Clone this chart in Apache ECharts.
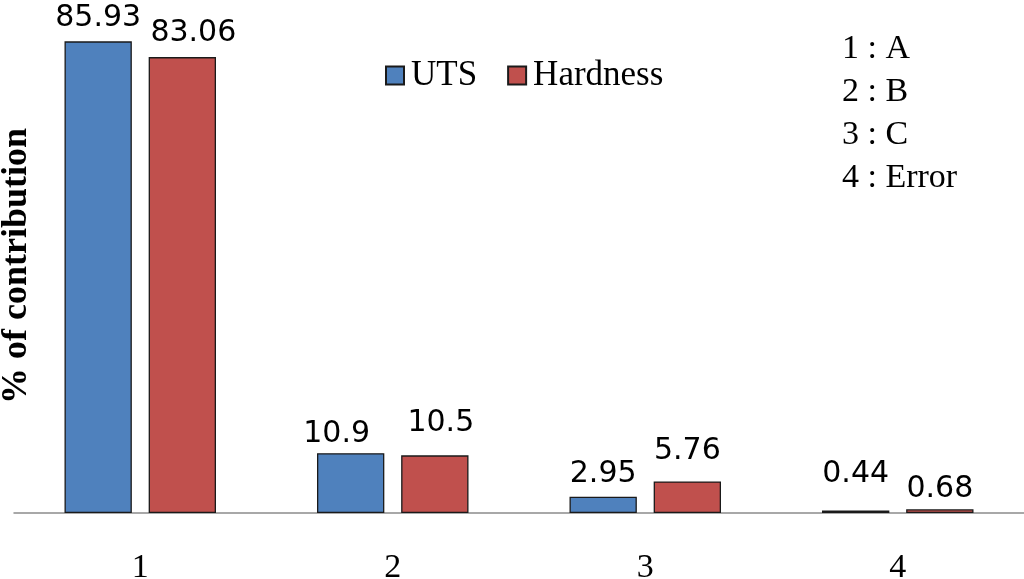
<!DOCTYPE html>
<html>
<head>
<meta charset="utf-8">
<script src="https://cdn.jsdelivr.net/npm/echarts@6/dist/echarts.min.js"></script>
<style>html,body{margin:0;padding:0;background:#fff;}#chart{width:1024px;height:579px;}</style>
</head>
<body>
<div id="chart"></div>
<script>
var categories = ['1', '2', '3', '4'];
var utsValues = [85.93, 10.9, 2.95, 0.44];
var hardnessValues = [83.06, 10.5, 5.76, 0.68];
var seriesNames = ['UTS', 'Hardness'];
var factorNotes = ['1 : A', '2 : B', '3 : C', '4 : Error'];
var yAxisTitle = '% of contribution';
// label nudges (style only), matching manual label placement in the original
var utsLabelOffsets = [[0, 0], [-14, 4], [0, 0], [0, -13]];
var hardnessLabelOffsets = [[11, -1], [6, -9], [0, -7], [0, 3]];

function withOffsets(values, offsets) {
  return values.map(function (v, i) {
    return { value: v, label: { offset: offsets[i] } };
  });
}

var chart = echarts.init(document.getElementById('chart'));
var labelStyle = {
  show: true, position: 'top', distance: 8,
  fontFamily: 'DejaVu Sans', fontSize: 30, color: '#000'
};
chart.setOption({
  animation: false,
  backgroundColor: '#fff',
  grid: { left: 14, right: 0, top: 19, bottom: 66, containLabel: false, outerBoundsMode: 'none' },
  legend: {
    data: seriesNames,
    left: 380, top: 53,
    icon: 'rect', itemWidth: 18, itemHeight: 18, itemGap: 30,
    textStyle: { fontFamily: 'Liberation Serif', fontSize: 35, color: '#000', padding: [0, 0, 0, 2] }
  },
  xAxis: {
    type: 'category',
    data: categories,
    axisLine: { lineStyle: { color: '#8c8c8c', width: 1.5 } },
    axisTick: { show: false },
    axisLabel: { fontFamily: 'Liberation Serif', fontSize: 34, color: '#000', margin: 38 }
  },
  yAxis: {
    type: 'value', min: 0, max: 90,
    axisLine: { show: false }, axisTick: { show: false },
    axisLabel: { show: false }, splitLine: { show: false },
    name: yAxisTitle, nameLocation: 'middle', nameRotate: 90, nameGap: -21,
    nameTextStyle: { fontFamily: 'Liberation Serif', fontWeight: 'bold', fontSize: 36, color: '#000' }
  },
  series: [
    {
      name: seriesNames[0], type: 'bar',
      data: withOffsets(utsValues, utsLabelOffsets),
      barGap: '25%', barCategoryGap: '40%',
      itemStyle: { color: '#4F81BD', borderColor: '#1a1a1a', borderWidth: 1.3 },
      label: labelStyle
    },
    {
      name: seriesNames[1], type: 'bar',
      data: withOffsets(hardnessValues, hardnessLabelOffsets),
      barGap: '25%', barCategoryGap: '40%',
      itemStyle: { color: '#C0504D', borderColor: '#1a1a1a', borderWidth: 1.3 },
      label: labelStyle
    }
  ],
  graphic: [{
    type: 'text', left: 842, top: 28,
    style: {
      text: factorNotes.join('\n'),
      fontFamily: 'Liberation Serif', fontSize: 34, lineHeight: 43, fill: '#000'
    }
  }]
});
</script>
</body>
</html>
